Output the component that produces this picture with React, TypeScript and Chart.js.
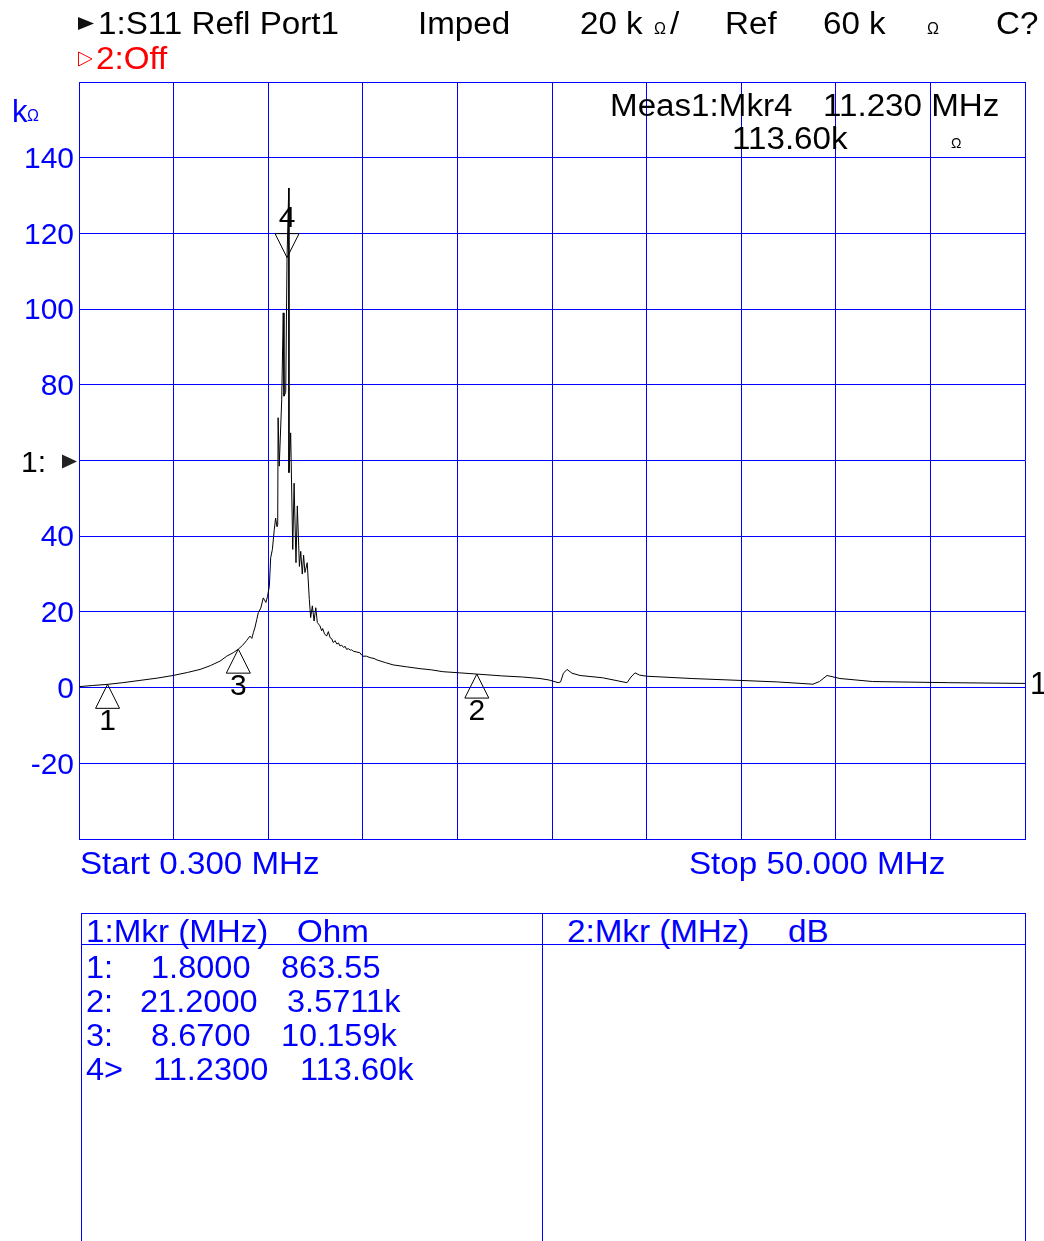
import React, { useEffect, useRef } from 'react';
import { Chart, registerables } from 'chart.js';

Chart.register(...registerables);

// ---- data ----
const freqMHz = [
  0.3, 1.0, 1.8, 2.6, 3.5, 4.4, 5.24, 6.0, 6.66, 7.2,
  7.71, 8.06, 8.4, 8.67, 8.9, 9.1, 9.28, 9.38, 9.46, 9.55,
  9.64, 9.72, 9.85, 9.98, 10.12, 10.2, 10.3, 10.37, 10.46, 10.56,
  10.63, 10.7, 10.74, 10.76, 10.82, 10.95, 11.03, 11.07, 11.16, 11.23,
  11.32, 11.33, 11.42, 11.53, 11.6, 11.7, 11.77, 11.88, 11.95, 12.03,
  12.1, 12.17, 12.29, 12.4, 12.47, 12.56, 12.65, 12.74, 12.82, 12.96,
  13.05, 13.1, 13.2, 13.31, 13.4, 13.49, 13.58, 13.66, 13.75, 13.85,
  13.93, 14.01, 14.1, 14.2, 14.28, 14.36, 14.45, 14.55, 14.63, 14.71,
  14.9, 15.06, 15.15, 15.22, 15.4, 15.6, 15.8, 15.96, 16.4, 16.8,
  17.5, 18.22, 18.8, 19.42, 20.3, 21.2, 22.5, 23.6, 24.52, 25.0,
  25.47, 25.6, 25.75, 25.94, 26.2, 26.62, 27.8, 29.09, 29.3, 29.51,
  29.75, 30.14, 32.5, 35.03, 37.0, 38.86, 39.2, 39.6, 40.28, 42.0,
  46.0, 50.0,
];
const impedanceK = [
  0.25, 0.55, 0.86, 1.3, 1.9, 2.5, 3.2, 4.0, 4.8, 5.8,
  7.0, 8.3, 9.2, 10.16, 11.2, 12.4, 13.6, 13.0, 14.5, 16.0,
  18.0, 19.8, 21.0, 23.7, 22.5, 24.0, 26.8, 34.3, 36.5, 41.8,
  44.8, 42.5, 43.0, 71.3, 58.5, 76, 99, 77, 78, 113.6,
  132, 56.8, 67.3, 36.5, 54, 33, 48, 32, 36, 30,
  35, 30.4, 33, 23.3, 18.5, 21.6, 17.6, 21.1, 17.2, 16.3,
  15.0, 15.6, 14.2, 13.6, 14.8, 13.2, 12.9, 11.9, 12.4, 11.5,
  11.8, 11.0, 11.2, 10.6, 10.9, 10.1, 10.3, 9.9, 10.0, 9.6,
  9.4, 9.2, 8.6, 8.3, 8.3, 7.9, 7.7, 7.3, 6.6, 6.0,
  5.5, 5.0, 4.7, 4.2, 3.9, 3.57, 3.1, 2.8, 2.4, 2.0,
  1.3, 1.5, 3.8, 4.8, 3.8, 3.2, 2.6, 1.3, 2.8, 3.9,
  3.3, 3.0, 2.4, 1.9, 1.5, 0.9, 1.6, 3.2, 2.4, 1.6,
  1.3, 1.1,
];
const yTicksK = [-40, -20, 0, 20, 40, 60, 80, 100, 120, 140, 160];
const startMHz = 0.3;
const stopMHz = 50;
const refLevelK = 60;
const markerNames = ['1', '2', '3', '4'];
const markerFreqMHz = [1.8, 21.2, 8.67, 11.23];
const markerValueK = [0.86355, 3.5711, 10.159, 113.6];
const activeMarker = '4';
const rowIds = ['1:', '2:', '3:', '4>'];
const rowFreqs = ['1.8000', '21.2000', '8.6700', '11.2300'];
const rowVals = ['863.55', '3.5711k', '10.159k', '113.60k'];

const BLUE = '#0000ff';
const RED = '#ff0000';
const FONT = '"Liberation Sans", Arial, sans-serif';

const overlayPlugin = {
  id: 'overlay',
  afterDatasetsDraw(chart: any) {
    const { ctx, scales } = chart;
    const x = scales.x;
    const y = scales.y;
    ctx.save();
    ctx.strokeStyle = '#000';
    ctx.fillStyle = '#000';
    ctx.lineWidth = 1;
    ctx.font = `30px ${FONT}`;
    ctx.textAlign = 'center';
    ctx.textBaseline = 'alphabetic';
    markerFreqMHz.forEach((f, i) => {
      const px = x.getPixelForValue(f);
      const py = y.getPixelForValue(markerValueK[i]);
      const active = markerNames[i] === activeMarker;
      const d = active ? -24 : 24;
      ctx.beginPath();
      ctx.moveTo(px, py);
      ctx.lineTo(px - 12, py + d);
      ctx.lineTo(px + 12, py + d);
      ctx.closePath();
      ctx.stroke();
      ctx.fillText(markerNames[i], px, active ? py + d - 7 : py + d + 22);
    });
    // reference level marker on left axis
    const ry = y.getPixelForValue(refLevelK);
    ctx.textAlign = 'left';
    ctx.textBaseline = 'middle';
    ctx.font = `30px ${FONT}`;
    ctx.fillText('1:', 21, ry + 3);
    ctx.beginPath();
    ctx.moveTo(62, ry - 6);
    ctx.lineTo(77, ry + 1);
    ctx.lineTo(62, ry + 8);
    ctx.closePath();
    ctx.fillStyle = '#222';
    ctx.fill();
    // trace number at right end
    ctx.fillStyle = '#000';
    ctx.font = `31px ${FONT}`;
    ctx.textBaseline = 'alphabetic';
    const ly = y.getPixelForValue(impedanceK[impedanceK.length - 1]);
    ctx.fillText('1', x.right + 5, ly + 11);
    ctx.restore();
  },
};

function Txt({ x, b, s = 31, c = '#000', sx = 1.06, t }: any) {
  return (
    <div
      style={{
        position: 'absolute',
        left: x,
        top: b - 0.8465 * s,
        fontSize: s,
        lineHeight: `${s}px`,
        color: c,
        whiteSpace: 'pre',
        transform: `scaleX(${sx})`,
        transformOrigin: '0 0',
      }}
    >
      {t}
    </div>
  );
}

function Line({ x, y, w, h }: any) {
  return <div style={{ position: 'absolute', left: x, top: y, width: w, height: h, background: BLUE }} />;
}

export default function App() {
  const ref = useRef<HTMLCanvasElement>(null);
  useEffect(() => {
    const chart = new Chart(ref.current as HTMLCanvasElement, {
      type: 'line',
      data: {
        datasets: [
          {
            data: freqMHz.map((f, i) => ({ x: f, y: impedanceK[i] })),
            borderColor: '#000',
            borderWidth: 1,
            pointRadius: 0,
            tension: 0,
            fill: false,
          },
        ],
      },
      options: {
        responsive: false,
        animation: false,
        layout: { padding: { left: 0, right: 19, top: 82, bottom: 41 } },
        plugins: { legend: { display: false }, tooltip: { enabled: false } },
        scales: {
          x: {
            type: 'linear',
            min: startMHz,
            max: stopMHz,
            afterBuildTicks: (s: any) => {
              s.ticks = Array.from({ length: 11 }, (_, i) => ({ value: startMHz + (i * (stopMHz - startMHz)) / 10 }));
            },
            afterFit: (s: any) => {
              s.height = 0;
            },
            ticks: { display: false },
            grid: { color: BLUE, lineWidth: 1, drawTicks: false },
            border: { display: true, color: BLUE },
          },
          y: {
            type: 'linear',
            min: -40,
            max: 160,
            afterBuildTicks: (s: any) => {
              s.ticks = yTicksK.map((v) => ({ value: v }));
            },
            afterFit: (s: any) => {
              s.width = 79;
            },
            ticks: {
              color: BLUE,
              padding: 5,
              labelOffset: 2,
              font: { size: 30, family: FONT },
              callback: (v: any) => (v === 160 || v === -40 || v === refLevelK ? '' : String(v)),
            },
            grid: { color: BLUE, lineWidth: 1, drawTicks: false },
            border: { display: true, color: BLUE },
          },
        },
      } as any,
      plugins: [overlayPlugin],
    });
    return () => chart.destroy();
  }, []);

  const colLefts = [
    [86, 151, 281],
    [86, 140, 287],
    [86, 151, 281],
    [86, 153, 300],
  ];
  const rowBase = [978, 1012, 1046, 1080];

  return (
    <div
      style={{
        position: 'absolute',
        left: 0,
        top: 0,
        width: 1044,
        height: 1241,
        background: '#fff',
        overflow: 'hidden',
        fontFamily: FONT,
      }}
    >
      <canvas ref={ref} width={1044} height={880} style={{ position: 'absolute', left: 0, top: 0 }} />

      {/* header */}
      <svg style={{ position: 'absolute', left: 0, top: 0 }} width={100} height={80}>
        <polygon points="78,17 94,23.5 78,30" fill="#111" />
        <polygon points="78.5,52 92,59 78.5,66" fill="none" stroke={RED} strokeWidth={1} />
      </svg>
      <Txt x={98} b={34} sx={1.07} t="1:S11 Refl Port1" />
      <Txt x={418} b={34} sx={1.07} t="Imped" />
      <Txt x={580} b={34} sx={1.07} t="20 k" />
      <Txt x={654} b={35} s={16} sx={1} t="Ω" />
      <Txt x={670} b={34} sx={1.07} t="/" />
      <Txt x={725} b={34} sx={1.07} t="Ref" />
      <Txt x={823} b={34} sx={1.07} t="60 k" />
      <Txt x={927} b={35} s={16} sx={1} t="Ω" />
      <Txt x={996} b={34} sx={1.07} t="C?" />
      <Txt x={96} b={69} c={RED} sx={1.07} t="2:Off" />

      {/* unit */}
      <Txt x={12} b={122} c={BLUE} s={31} sx={1.0} t="k" />
      <Txt x={27} b={122} c={BLUE} s={16} sx={1.0} t="Ω" />

      {/* measurement readout */}
      <Txt x={610} b={116} sx={1.07} t="Meas1:Mkr4" />
      <Txt x={823} b={116} sx={1.07} t="11.230 MHz" />
      <Txt x={732} b={149} sx={1.07} t="113.60k" />
      <Txt x={951} b={148} s={14} sx={1} t="Ω" />

      {/* start / stop */}
      <Txt x={80} b={874} c={BLUE} s={31} sx={1.07} t="Start 0.300 MHz" />
      <Txt x={689} b={874} c={BLUE} s={31} sx={1.07} t="Stop 50.000 MHz" />

      {/* table */}
      <Line x={81} y={913} w={945} h={1} />
      <Line x={81} y={944} w={945} h={1} />
      <Line x={81} y={913} w={1} h={330} />
      <Line x={542} y={913} w={1} h={330} />
      <Line x={1025} y={913} w={1} h={330} />
      <Txt x={86} b={942} c={BLUE} sx={1.07} t="1:Mkr (MHz)" />
      <Txt x={297} b={942} c={BLUE} sx={1.07} t="Ohm" />
      <Txt x={567} b={942} c={BLUE} sx={1.07} t="2:Mkr (MHz)" />
      <Txt x={788} b={942} c={BLUE} sx={1.07} t="dB" />
      {rowIds.map((id, i) => (
        <React.Fragment key={id}>
          <Txt x={colLefts[i][0]} b={rowBase[i]} c={BLUE} sx={1.05} t={id} />
          <Txt x={colLefts[i][1]} b={rowBase[i]} c={BLUE} sx={1.05} t={rowFreqs[i]} />
          <Txt x={colLefts[i][2]} b={rowBase[i]} c={BLUE} sx={1.05} t={rowVals[i]} />
        </React.Fragment>
      ))}
    </div>
  );
}
